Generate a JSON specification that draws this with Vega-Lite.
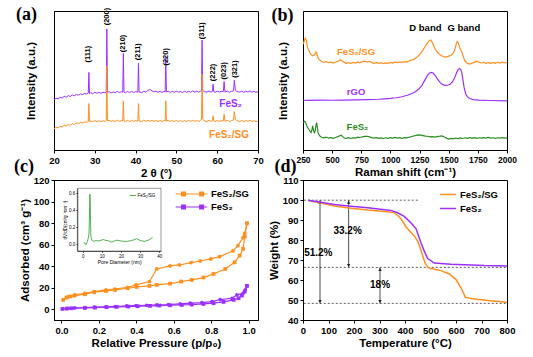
{
"$schema": "https://vega.github.io/schema/vega-lite/v6.json",
"background": "white",
"padding": {"left": 13, "top": 5, "right": 5, "bottom": 2},
"columns": 2,
"spacing": {"row": -10, "column": 3},
"resolve": {"scale": {"color": "independent", "shape": "independent"}, "legend": {"color": "independent", "shape": "independent"}},
"config": {
  "font": "Liberation Sans",
  "view": {"stroke": "black", "strokeWidth": 1},
  "axis": {"grid": false, "domainColor": "black", "tickColor": "black", "labelColor": "black", "titleColor": "black", "labelFont": "Liberation Sans", "titleFont": "Liberation Sans", "labelFontWeight": "bold", "titleFontWeight": "bold", "labelFontSize": 9.5, "titleFontSize": 11.5, "tickSize": 3, "labelPadding": 2, "titlePadding": 3, "labelFlush": false, "labelOverlap": false},
  "legend": {"labelFont": "Liberation Sans", "labelFontWeight": "bold", "labelFontSize": 9.5, "labelColor": "black"}
},
"datasets": {
  "xrd": [
    {"s":"FeS₂","x":20.0,"y":36.0},{"s":"FeS₂","x":20.5,"y":37.2},{"s":"FeS₂","x":21.0,"y":36.8},{"s":"FeS₂","x":21.5,"y":37.9},{"s":"FeS₂","x":22.0,"y":37.4},{"s":"FeS₂","x":22.5,"y":38.6},{"s":"FeS₂","x":23.0,"y":38.0},{"s":"FeS₂","x":23.5,"y":39.1},{"s":"FeS₂","x":24.0,"y":38.5},{"s":"FeS₂","x":24.5,"y":39.6},{"s":"FeS₂","x":25.0,"y":39.0},{"s":"FeS₂","x":25.5,"y":40.0},{"s":"FeS₂","x":26.0,"y":39.4},{"s":"FeS₂","x":26.5,"y":40.3},{"s":"FeS₂","x":27.0,"y":39.8},{"s":"FeS₂","x":27.5,"y":40.7},{"s":"FeS₂","x":28.0,"y":40.2},{"s":"FeS₂","x":28.4,"y":41.0},{"s":"FeS₂","x":28.55,"y":55.8},{"s":"FeS₂","x":28.7,"y":40.5},{"s":"FeS₂","x":29.0,"y":41.2},{"s":"FeS₂","x":29.5,"y":40.4},{"s":"FeS₂","x":30.0,"y":41.6},{"s":"FeS₂","x":30.5,"y":40.8},{"s":"FeS₂","x":31.0,"y":41.5},{"s":"FeS₂","x":31.5,"y":40.7},{"s":"FeS₂","x":32.0,"y":41.6},{"s":"FeS₂","x":32.5,"y":41.0},{"s":"FeS₂","x":32.8,"y":42.0},{"s":"FeS₂","x":32.95,"y":87.0},{"s":"FeS₂","x":33.1,"y":41.5},{"s":"FeS₂","x":33.5,"y":42.0},{"s":"FeS₂","x":34.0,"y":41.0},{"s":"FeS₂","x":34.5,"y":41.8},{"s":"FeS₂","x":35.0,"y":41.1},{"s":"FeS₂","x":35.5,"y":42.2},{"s":"FeS₂","x":36.0,"y":41.3},{"s":"FeS₂","x":36.5,"y":42.0},{"s":"FeS₂","x":36.85,"y":41.5},{"s":"FeS₂","x":37.0,"y":69.5},{"s":"FeS₂","x":37.15,"y":41.8},{"s":"FeS₂","x":37.5,"y":41.2},{"s":"FeS₂","x":38.0,"y":42.1},{"s":"FeS₂","x":38.5,"y":41.3},{"s":"FeS₂","x":39.0,"y":42.2},{"s":"FeS₂","x":39.5,"y":41.4},{"s":"FeS₂","x":40.0,"y":42.0},{"s":"FeS₂","x":40.55,"y":41.6},{"s":"FeS₂","x":40.7,"y":62.5},{"s":"FeS₂","x":40.85,"y":41.8},{"s":"FeS₂","x":41.5,"y":41.2},{"s":"FeS₂","x":42.0,"y":42.3},{"s":"FeS₂","x":42.5,"y":41.6},{"s":"FeS₂","x":43.0,"y":42.8},{"s":"FeS₂","x":43.5,"y":43.5},{"s":"FeS₂","x":44.0,"y":42.6},{"s":"FeS₂","x":44.5,"y":41.8},{"s":"FeS₂","x":45.0,"y":42.4},{"s":"FeS₂","x":45.5,"y":41.5},{"s":"FeS₂","x":46.0,"y":42.2},{"s":"FeS₂","x":46.5,"y":41.4},{"s":"FeS₂","x":47.0,"y":42.3},{"s":"FeS₂","x":47.25,"y":42.0},{"s":"FeS₂","x":47.4,"y":66.6},{"s":"FeS₂","x":47.55,"y":41.8},{"s":"FeS₂","x":48.0,"y":42.3},{"s":"FeS₂","x":48.5,"y":41.4},{"s":"FeS₂","x":49.0,"y":42.2},{"s":"FeS₂","x":49.5,"y":41.5},{"s":"FeS₂","x":50.0,"y":42.4},{"s":"FeS₂","x":50.5,"y":41.6},{"s":"FeS₂","x":51.0,"y":42.1},{"s":"FeS₂","x":51.5,"y":41.3},{"s":"FeS₂","x":52.0,"y":42.3},{"s":"FeS₂","x":52.5,"y":41.5},{"s":"FeS₂","x":53.0,"y":42.2},{"s":"FeS₂","x":53.5,"y":41.6},{"s":"FeS₂","x":54.0,"y":42.5},{"s":"FeS₂","x":54.5,"y":41.7},{"s":"FeS₂","x":55.0,"y":42.3},{"s":"FeS₂","x":55.5,"y":41.6},{"s":"FeS₂","x":56.0,"y":42.6},{"s":"FeS₂","x":56.15,"y":42.8},{"s":"FeS₂","x":56.3,"y":79.1},{"s":"FeS₂","x":56.45,"y":43.0},{"s":"FeS₂","x":56.8,"y":42.0},{"s":"FeS₂","x":57.5,"y":41.6},{"s":"FeS₂","x":58.0,"y":42.4},{"s":"FeS₂","x":58.5,"y":41.7},{"s":"FeS₂","x":58.85,"y":42.3},{"s":"FeS₂","x":59.0,"y":47.4},{"s":"FeS₂","x":59.15,"y":42.0},{"s":"FeS₂","x":59.5,"y":41.5},{"s":"FeS₂","x":60.0,"y":42.3},{"s":"FeS₂","x":60.5,"y":41.6},{"s":"FeS₂","x":61.0,"y":42.2},{"s":"FeS₂","x":61.5,"y":42.0},{"s":"FeS₂","x":61.7,"y":49.3},{"s":"FeS₂","x":61.9,"y":41.8},{"s":"FeS₂","x":62.5,"y":42.4},{"s":"FeS₂","x":63.0,"y":41.5},{"s":"FeS₂","x":63.5,"y":42.2},{"s":"FeS₂","x":64.0,"y":42.6},{"s":"FeS₂","x":64.2,"y":50.2},{"s":"FeS₂","x":64.45,"y":43.0},{"s":"FeS₂","x":64.8,"y":42.2},{"s":"FeS₂","x":65.5,"y":41.6},{"s":"FeS₂","x":66.0,"y":42.4},{"s":"FeS₂","x":66.5,"y":41.5},{"s":"FeS₂","x":67.0,"y":42.3},{"s":"FeS₂","x":67.5,"y":41.7},{"s":"FeS₂","x":68.0,"y":42.5},{"s":"FeS₂","x":68.5,"y":41.6},{"s":"FeS₂","x":69.0,"y":42.2},{"s":"FeS₂","x":69.5,"y":41.5},{"s":"FeS₂","x":70.0,"y":42.0},
    {"s":"FeS₂/SG","x":20.0,"y":15.2},{"s":"FeS₂/SG","x":20.5,"y":16.3},{"s":"FeS₂/SG","x":21.0,"y":15.9},{"s":"FeS₂/SG","x":21.5,"y":17.0},{"s":"FeS₂/SG","x":22.0,"y":16.6},{"s":"FeS₂/SG","x":22.5,"y":17.8},{"s":"FeS₂/SG","x":23.0,"y":17.2},{"s":"FeS₂/SG","x":23.5,"y":18.3},{"s":"FeS₂/SG","x":24.0,"y":17.8},{"s":"FeS₂/SG","x":24.5,"y":18.9},{"s":"FeS₂/SG","x":25.0,"y":18.4},{"s":"FeS₂/SG","x":25.5,"y":19.5},{"s":"FeS₂/SG","x":26.0,"y":19.0},{"s":"FeS₂/SG","x":26.5,"y":19.9},{"s":"FeS₂/SG","x":27.0,"y":19.4},{"s":"FeS₂/SG","x":27.5,"y":20.3},{"s":"FeS₂/SG","x":28.0,"y":19.8},{"s":"FeS₂/SG","x":28.4,"y":20.6},{"s":"FeS₂/SG","x":28.55,"y":33.4},{"s":"FeS₂/SG","x":28.7,"y":20.4},{"s":"FeS₂/SG","x":29.0,"y":20.9},{"s":"FeS₂/SG","x":29.5,"y":20.2},{"s":"FeS₂/SG","x":30.0,"y":21.2},{"s":"FeS₂/SG","x":30.5,"y":20.4},{"s":"FeS₂/SG","x":31.0,"y":21.0},{"s":"FeS₂/SG","x":31.5,"y":20.3},{"s":"FeS₂/SG","x":32.0,"y":21.1},{"s":"FeS₂/SG","x":32.5,"y":20.5},{"s":"FeS₂/SG","x":32.8,"y":21.4},{"s":"FeS₂/SG","x":32.95,"y":60.6},{"s":"FeS₂/SG","x":33.1,"y":21.0},{"s":"FeS₂/SG","x":33.5,"y":21.4},{"s":"FeS₂/SG","x":34.0,"y":20.5},{"s":"FeS₂/SG","x":34.5,"y":21.2},{"s":"FeS₂/SG","x":35.0,"y":20.4},{"s":"FeS₂/SG","x":35.5,"y":21.5},{"s":"FeS₂/SG","x":36.0,"y":20.6},{"s":"FeS₂/SG","x":36.5,"y":21.2},{"s":"FeS₂/SG","x":36.85,"y":20.8},{"s":"FeS₂/SG","x":37.0,"y":35.3},{"s":"FeS₂/SG","x":37.15,"y":21.0},{"s":"FeS₂/SG","x":37.5,"y":20.4},{"s":"FeS₂/SG","x":38.0,"y":21.3},{"s":"FeS₂/SG","x":38.5,"y":20.5},{"s":"FeS₂/SG","x":39.0,"y":21.4},{"s":"FeS₂/SG","x":39.5,"y":20.6},{"s":"FeS₂/SG","x":40.0,"y":21.2},{"s":"FeS₂/SG","x":40.55,"y":20.8},{"s":"FeS₂/SG","x":40.7,"y":33.4},{"s":"FeS₂/SG","x":40.85,"y":21.0},{"s":"FeS₂/SG","x":41.5,"y":20.4},{"s":"FeS₂/SG","x":42.0,"y":21.5},{"s":"FeS₂/SG","x":42.5,"y":20.7},{"s":"FeS₂/SG","x":43.0,"y":21.3},{"s":"FeS₂/SG","x":43.5,"y":20.6},{"s":"FeS₂/SG","x":44.0,"y":21.4},{"s":"FeS₂/SG","x":44.5,"y":20.5},{"s":"FeS₂/SG","x":45.0,"y":21.3},{"s":"FeS₂/SG","x":45.5,"y":20.4},{"s":"FeS₂/SG","x":46.0,"y":21.2},{"s":"FeS₂/SG","x":46.5,"y":20.5},{"s":"FeS₂/SG","x":47.0,"y":21.3},{"s":"FeS₂/SG","x":47.25,"y":21.0},{"s":"FeS₂/SG","x":47.4,"y":35.3},{"s":"FeS₂/SG","x":47.55,"y":20.8},{"s":"FeS₂/SG","x":48.0,"y":21.4},{"s":"FeS₂/SG","x":48.5,"y":20.5},{"s":"FeS₂/SG","x":49.0,"y":21.2},{"s":"FeS₂/SG","x":49.5,"y":20.4},{"s":"FeS₂/SG","x":50.0,"y":21.3},{"s":"FeS₂/SG","x":50.5,"y":20.5},{"s":"FeS₂/SG","x":51.0,"y":21.1},{"s":"FeS₂/SG","x":51.5,"y":20.3},{"s":"FeS₂/SG","x":52.0,"y":21.2},{"s":"FeS₂/SG","x":52.5,"y":20.5},{"s":"FeS₂/SG","x":53.0,"y":21.3},{"s":"FeS₂/SG","x":53.5,"y":20.6},{"s":"FeS₂/SG","x":54.0,"y":21.4},{"s":"FeS₂/SG","x":54.5,"y":20.6},{"s":"FeS₂/SG","x":55.0,"y":21.2},{"s":"FeS₂/SG","x":55.5,"y":20.5},{"s":"FeS₂/SG","x":56.0,"y":21.6},{"s":"FeS₂/SG","x":56.15,"y":22.0},{"s":"FeS₂/SG","x":56.3,"y":54.6},{"s":"FeS₂/SG","x":56.45,"y":22.2},{"s":"FeS₂/SG","x":56.8,"y":21.0},{"s":"FeS₂/SG","x":57.5,"y":20.5},{"s":"FeS₂/SG","x":58.0,"y":21.3},{"s":"FeS₂/SG","x":58.5,"y":20.6},{"s":"FeS₂/SG","x":58.85,"y":21.2},{"s":"FeS₂/SG","x":59.0,"y":24.5},{"s":"FeS₂/SG","x":59.15,"y":21.0},{"s":"FeS₂/SG","x":59.5,"y":20.4},{"s":"FeS₂/SG","x":60.0,"y":21.2},{"s":"FeS₂/SG","x":60.5,"y":20.5},{"s":"FeS₂/SG","x":61.0,"y":21.1},{"s":"FeS₂/SG","x":61.5,"y":21.0},{"s":"FeS₂/SG","x":61.7,"y":25.7},{"s":"FeS₂/SG","x":61.9,"y":20.8},{"s":"FeS₂/SG","x":62.5,"y":21.3},{"s":"FeS₂/SG","x":63.0,"y":20.4},{"s":"FeS₂/SG","x":63.5,"y":21.2},{"s":"FeS₂/SG","x":64.0,"y":21.6},{"s":"FeS₂/SG","x":64.2,"y":27.6},{"s":"FeS₂/SG","x":64.45,"y":22.0},{"s":"FeS₂/SG","x":64.8,"y":21.1},{"s":"FeS₂/SG","x":65.5,"y":20.5},{"s":"FeS₂/SG","x":66.0,"y":21.3},{"s":"FeS₂/SG","x":66.5,"y":20.4},{"s":"FeS₂/SG","x":67.0,"y":21.2},{"s":"FeS₂/SG","x":67.5,"y":20.6},{"s":"FeS₂/SG","x":68.0,"y":21.4},{"s":"FeS₂/SG","x":68.5,"y":20.5},{"s":"FeS₂/SG","x":69.0,"y":21.1},{"s":"FeS₂/SG","x":69.5,"y":20.4},{"s":"FeS₂/SG","x":70.0,"y":20.9}
  ],
  "xrdPeaks": [
    {"x":28.4,"y":69,"t":"(111)"},{"x":32.9,"y":96,"t":"(200)"},{"x":37.0,"y":76.7,"t":"(210)"},{"x":40.7,"y":70.7,"t":"(211)"},{"x":47.4,"y":67,"t":"(220)"},{"x":56.3,"y":85.8,"t":"(311)"},{"x":59.0,"y":55.8,"t":"(222)"},{"x":61.7,"y":57,"t":"(023)"},{"x":64.4,"y":58.2,"t":"(321)"}
  ],
  "xrdNames": [
    {"x":63.3,"y":33.4,"t":"FeS₂","s":"FeS₂"},{"x":62.9,"y":10.6,"t":"FeS₂/SG","s":"FeS₂/SG"}
  ],
  "lettersA": [{"x":13.26,"y":97.1,"t":"(a)"},{"x":12.65,"y":-12.1,"t":"(c)"}],
  "lettersB": [{"x":74,"y":96.4,"t":"(b)"},{"x":100,"y":-12.1,"t":"(d)"}],
  "raman": [
    {"s":"FeS₂/SG","x":253,"y":76.2},{"s":"FeS₂/SG","x":262,"y":79},{"s":"FeS₂/SG","x":270,"y":80.5},{"s":"FeS₂/SG","x":278,"y":79},{"s":"FeS₂/SG","x":288,"y":74},{"s":"FeS₂/SG","x":300,"y":71.5},{"s":"FeS₂/SG","x":315,"y":69},{"s":"FeS₂/SG","x":333,"y":67.8},{"s":"FeS₂/SG","x":350,"y":68.5},{"s":"FeS₂/SG","x":360,"y":70.5},{"s":"FeS₂/SG","x":368,"y":69.8},{"s":"FeS₂/SG","x":380,"y":66},{"s":"FeS₂/SG","x":395,"y":64.5},{"s":"FeS₂/SG","x":410,"y":63.8},{"s":"FeS₂/SG","x":430,"y":63},{"s":"FeS₂/SG","x":450,"y":63.6},{"s":"FeS₂/SG","x":470,"y":62.8},{"s":"FeS₂/SG","x":490,"y":63.4},{"s":"FeS₂/SG","x":510,"y":62.6},{"s":"FeS₂/SG","x":530,"y":63.3},{"s":"FeS₂/SG","x":550,"y":63.8},{"s":"FeS₂/SG","x":570,"y":64.8},{"s":"FeS₂/SG","x":585,"y":64.2},{"s":"FeS₂/SG","x":600,"y":63.2},{"s":"FeS₂/SG","x":620,"y":62.4},{"s":"FeS₂/SG","x":640,"y":62.9},{"s":"FeS₂/SG","x":660,"y":62.2},{"s":"FeS₂/SG","x":680,"y":63.0},{"s":"FeS₂/SG","x":700,"y":62.5},{"s":"FeS₂/SG","x":720,"y":63.3},{"s":"FeS₂/SG","x":740,"y":62.7},{"s":"FeS₂/SG","x":760,"y":63.6},{"s":"FeS₂/SG","x":780,"y":63.9},{"s":"FeS₂/SG","x":800,"y":63.2},{"s":"FeS₂/SG","x":820,"y":63.8},{"s":"FeS₂/SG","x":840,"y":62.9},{"s":"FeS₂/SG","x":860,"y":62.4},{"s":"FeS₂/SG","x":880,"y":63.0},{"s":"FeS₂/SG","x":900,"y":62.3},{"s":"FeS₂/SG","x":920,"y":62.8},{"s":"FeS₂/SG","x":940,"y":62.1},{"s":"FeS₂/SG","x":960,"y":62.7},{"s":"FeS₂/SG","x":980,"y":62.3},{"s":"FeS₂/SG","x":1000,"y":63.0},{"s":"FeS₂/SG","x":1020,"y":62.5},{"s":"FeS₂/SG","x":1040,"y":63.2},{"s":"FeS₂/SG","x":1060,"y":62.8},{"s":"FeS₂/SG","x":1080,"y":63.4},{"s":"FeS₂/SG","x":1100,"y":63.0},{"s":"FeS₂/SG","x":1120,"y":63.6},{"s":"FeS₂/SG","x":1140,"y":63.3},{"s":"FeS₂/SG","x":1160,"y":64.2},{"s":"FeS₂/SG","x":1180,"y":64.6},{"s":"FeS₂/SG","x":1200,"y":65.2},{"s":"FeS₂/SG","x":1220,"y":66.3},{"s":"FeS₂/SG","x":1240,"y":67.8},{"s":"FeS₂/SG","x":1260,"y":69.5},{"s":"FeS₂/SG","x":1280,"y":72.0},{"s":"FeS₂/SG","x":1300,"y":74.8},{"s":"FeS₂/SG","x":1320,"y":77.2},{"s":"FeS₂/SG","x":1335,"y":78.8},{"s":"FeS₂/SG","x":1345,"y":79.2},{"s":"FeS₂/SG","x":1355,"y":78.0},{"s":"FeS₂/SG","x":1370,"y":75.2},{"s":"FeS₂/SG","x":1385,"y":72.5},{"s":"FeS₂/SG","x":1400,"y":70.5},{"s":"FeS₂/SG","x":1420,"y":68.8},{"s":"FeS₂/SG","x":1440,"y":67.8},{"s":"FeS₂/SG","x":1460,"y":67.2},{"s":"FeS₂/SG","x":1480,"y":66.8},{"s":"FeS₂/SG","x":1500,"y":67.5},{"s":"FeS₂/SG","x":1520,"y":68.2},{"s":"FeS₂/SG","x":1535,"y":69.3},{"s":"FeS₂/SG","x":1550,"y":71.5},{"s":"FeS₂/SG","x":1562,"y":75.5},{"s":"FeS₂/SG","x":1572,"y":78.0},{"s":"FeS₂/SG","x":1582,"y":77.2},{"s":"FeS₂/SG","x":1592,"y":74.0},{"s":"FeS₂/SG","x":1600,"y":72.5},{"s":"FeS₂/SG","x":1610,"y":71.0},{"s":"FeS₂/SG","x":1625,"y":67.0},{"s":"FeS₂/SG","x":1640,"y":64.0},{"s":"FeS₂/SG","x":1660,"y":62.3},{"s":"FeS₂/SG","x":1680,"y":61.8},{"s":"FeS₂/SG","x":1700,"y":62.5},{"s":"FeS₂/SG","x":1720,"y":63.2},{"s":"FeS₂/SG","x":1740,"y":63.8},{"s":"FeS₂/SG","x":1760,"y":63.2},{"s":"FeS₂/SG","x":1780,"y":62.6},{"s":"FeS₂/SG","x":1800,"y":63.1},{"s":"FeS₂/SG","x":1820,"y":62.4},{"s":"FeS₂/SG","x":1840,"y":62.9},{"s":"FeS₂/SG","x":1860,"y":62.3},{"s":"FeS₂/SG","x":1880,"y":63.0},{"s":"FeS₂/SG","x":1900,"y":62.4},{"s":"FeS₂/SG","x":1920,"y":63.1},{"s":"FeS₂/SG","x":1940,"y":62.5},{"s":"FeS₂/SG","x":1960,"y":63.2},{"s":"FeS₂/SG","x":1980,"y":62.6},{"s":"FeS₂/SG","x":2000,"y":63.0},
    {"s":"rGO","x":253,"y":35.8},{"s":"rGO","x":300,"y":35.7},{"s":"rGO","x":400,"y":35.9},{"s":"rGO","x":500,"y":35.8},{"s":"rGO","x":600,"y":35.9},{"s":"rGO","x":700,"y":36.0},{"s":"rGO","x":800,"y":36.2},{"s":"rGO","x":900,"y":36.5},{"s":"rGO","x":950,"y":36.8},{"s":"rGO","x":1000,"y":37.1},{"s":"rGO","x":1050,"y":37.6},{"s":"rGO","x":1100,"y":38.3},{"s":"rGO","x":1150,"y":39.6},{"s":"rGO","x":1200,"y":41.2},{"s":"rGO","x":1240,"y":43.5},{"s":"rGO","x":1270,"y":46.5},{"s":"rGO","x":1300,"y":51.0},{"s":"rGO","x":1320,"y":54.0},{"s":"rGO","x":1340,"y":55.6},{"s":"rGO","x":1355,"y":55.8},{"s":"rGO","x":1370,"y":55.0},{"s":"rGO","x":1390,"y":52.8},{"s":"rGO","x":1410,"y":50.2},{"s":"rGO","x":1430,"y":48.3},{"s":"rGO","x":1450,"y":47.0},{"s":"rGO","x":1470,"y":46.5},{"s":"rGO","x":1490,"y":46.6},{"s":"rGO","x":1510,"y":47.3},{"s":"rGO","x":1530,"y":48.8},{"s":"rGO","x":1550,"y":51.8},{"s":"rGO","x":1565,"y":55.0},{"s":"rGO","x":1580,"y":57.8},{"s":"rGO","x":1592,"y":58.7},{"s":"rGO","x":1603,"y":58.0},{"s":"rGO","x":1612,"y":55.5},{"s":"rGO","x":1622,"y":50.5},{"s":"rGO","x":1632,"y":45.0},{"s":"rGO","x":1645,"y":40.5},{"s":"rGO","x":1660,"y":38.4},{"s":"rGO","x":1680,"y":37.0},{"s":"rGO","x":1710,"y":36.3},{"s":"rGO","x":1760,"y":35.9},{"s":"rGO","x":1850,"y":35.6},{"s":"rGO","x":2000,"y":35.3},
    {"s":"FeS₂","x":253,"y":19.7},{"s":"FeS₂","x":262,"y":20.6},{"s":"FeS₂","x":270,"y":20.2},{"s":"FeS₂","x":280,"y":18.0},{"s":"FeS₂","x":290,"y":16.2},{"s":"FeS₂","x":299,"y":14.9},{"s":"FeS₂","x":310,"y":13.5},{"s":"FeS₂","x":319,"y":12.5},{"s":"FeS₂","x":326,"y":14.0},{"s":"FeS₂","x":333,"y":17.3},{"s":"FeS₂","x":340,"y":14.5},{"s":"FeS₂","x":347,"y":12.5},{"s":"FeS₂","x":355,"y":13.8},{"s":"FeS₂","x":362,"y":18.5},{"s":"FeS₂","x":367,"y":19.7},{"s":"FeS₂","x":372,"y":17.0},{"s":"FeS₂","x":380,"y":12.0},{"s":"FeS₂","x":395,"y":10.0},{"s":"FeS₂","x":410,"y":9.2},{"s":"FeS₂","x":430,"y":8.8},{"s":"FeS₂","x":450,"y":9.3},{"s":"FeS₂","x":470,"y":8.5},{"s":"FeS₂","x":490,"y":8.9},{"s":"FeS₂","x":510,"y":8.4},{"s":"FeS₂","x":530,"y":9.0},{"s":"FeS₂","x":550,"y":9.6},{"s":"FeS₂","x":565,"y":10.2},{"s":"FeS₂","x":578,"y":10.6},{"s":"FeS₂","x":590,"y":9.6},{"s":"FeS₂","x":605,"y":8.6},{"s":"FeS₂","x":620,"y":8.4},{"s":"FeS₂","x":640,"y":8.9},{"s":"FeS₂","x":660,"y":8.3},{"s":"FeS₂","x":680,"y":8.9},{"s":"FeS₂","x":700,"y":8.6},{"s":"FeS₂","x":720,"y":9.2},{"s":"FeS₂","x":740,"y":9.0},{"s":"FeS₂","x":760,"y":9.5},{"s":"FeS₂","x":780,"y":9.8},{"s":"FeS₂","x":800,"y":9.9},{"s":"FeS₂","x":820,"y":9.4},{"s":"FeS₂","x":840,"y":8.9},{"s":"FeS₂","x":860,"y":8.5},{"s":"FeS₂","x":880,"y":8.9},{"s":"FeS₂","x":900,"y":8.4},{"s":"FeS₂","x":920,"y":8.7},{"s":"FeS₂","x":940,"y":8.3},{"s":"FeS₂","x":960,"y":8.8},{"s":"FeS₂","x":980,"y":8.4},{"s":"FeS₂","x":1000,"y":8.9},{"s":"FeS₂","x":1020,"y":8.5},{"s":"FeS₂","x":1040,"y":9.0},{"s":"FeS₂","x":1060,"y":8.6},{"s":"FeS₂","x":1080,"y":8.9},{"s":"FeS₂","x":1100,"y":8.4},{"s":"FeS₂","x":1120,"y":8.9},{"s":"FeS₂","x":1140,"y":8.7},{"s":"FeS₂","x":1160,"y":9.2},{"s":"FeS₂","x":1180,"y":9.6},{"s":"FeS₂","x":1200,"y":10.1},{"s":"FeS₂","x":1220,"y":10.5},{"s":"FeS₂","x":1240,"y":10.9},{"s":"FeS₂","x":1260,"y":10.7},{"s":"FeS₂","x":1280,"y":10.4},{"s":"FeS₂","x":1300,"y":10.0},{"s":"FeS₂","x":1320,"y":9.9},{"s":"FeS₂","x":1340,"y":9.5},{"s":"FeS₂","x":1360,"y":9.6},{"s":"FeS₂","x":1380,"y":9.3},{"s":"FeS₂","x":1400,"y":9.6},{"s":"FeS₂","x":1420,"y":9.9},{"s":"FeS₂","x":1440,"y":10.2},{"s":"FeS₂","x":1460,"y":9.5},{"s":"FeS₂","x":1480,"y":8.5},{"s":"FeS₂","x":1500,"y":7.9},{"s":"FeS₂","x":1520,"y":8.3},{"s":"FeS₂","x":1540,"y":8.0},{"s":"FeS₂","x":1560,"y":8.6},{"s":"FeS₂","x":1580,"y":8.2},{"s":"FeS₂","x":1600,"y":8.7},{"s":"FeS₂","x":1620,"y":8.3},{"s":"FeS₂","x":1640,"y":8.8},{"s":"FeS₂","x":1660,"y":8.4},{"s":"FeS₂","x":1680,"y":8.9},{"s":"FeS₂","x":1700,"y":8.5},{"s":"FeS₂","x":1720,"y":8.9},{"s":"FeS₂","x":1740,"y":8.4},{"s":"FeS₂","x":1760,"y":8.8},{"s":"FeS₂","x":1780,"y":8.5},{"s":"FeS₂","x":1800,"y":8.9},{"s":"FeS₂","x":1820,"y":8.6},{"s":"FeS₂","x":1840,"y":9.0},{"s":"FeS₂","x":1860,"y":8.5},{"s":"FeS₂","x":1880,"y":8.8},{"s":"FeS₂","x":1900,"y":8.4},{"s":"FeS₂","x":1920,"y":8.8},{"s":"FeS₂","x":1940,"y":8.5},{"s":"FeS₂","x":1960,"y":8.9},{"s":"FeS₂","x":1980,"y":8.5},{"s":"FeS₂","x":2000,"y":8.7}
  ],
  "ramanBands": [{"x":1300,"y":87.7,"t":"D band"},{"x":1630,"y":87.7,"t":"G band"}],
  "ramanNames": [{"x":705,"y":70.7,"t":"FeS₂/SG","s":"FeS₂/SG"},{"x":705,"y":41.8,"t":"rGO","s":"rGO"},{"x":717,"y":16.8,"t":"FeS₂","s":"FeS₂"}],
  "bet": [
    {"s":"FeS₂/SG","b":"ads","x":0.009,"y":8.7},{"s":"FeS₂/SG","b":"ads","x":0.027,"y":10.8},{"s":"FeS₂/SG","b":"ads","x":0.048,"y":11.8},{"s":"FeS₂/SG","b":"ads","x":0.071,"y":12.7},{"s":"FeS₂/SG","b":"ads","x":0.125,"y":13.9},{"s":"FeS₂/SG","b":"ads","x":0.175,"y":15.8},{"s":"FeS₂/SG","b":"ads","x":0.2375,"y":17},{"s":"FeS₂/SG","b":"ads","x":0.286,"y":17.9},{"s":"FeS₂/SG","b":"ads","x":0.354,"y":19.5},{"s":"FeS₂/SG","b":"ads","x":0.402,"y":20.7},{"s":"FeS₂/SG","b":"ads","x":0.47,"y":21.7},{"s":"FeS₂/SG","b":"ads","x":0.509,"y":22.6},{"s":"FeS₂/SG","b":"ads","x":0.58,"y":23.8},{"s":"FeS₂/SG","b":"ads","x":0.639,"y":25.7},{"s":"FeS₂/SG","b":"ads","x":0.696,"y":27.2},{"s":"FeS₂/SG","b":"ads","x":0.759,"y":29.4},{"s":"FeS₂/SG","b":"ads","x":0.8125,"y":32.8},{"s":"FeS₂/SG","b":"ads","x":0.875,"y":37.4},{"s":"FeS₂/SG","b":"ads","x":0.925,"y":43.6},{"s":"FeS₂/SG","b":"ads","x":0.952,"y":49.8},{"s":"FeS₂/SG","b":"ads","x":0.97,"y":56},{"s":"FeS₂/SG","b":"ads","x":0.979,"y":67.4},{"s":"FeS₂/SG","b":"ads","x":0.991,"y":79.8},
    {"s":"FeS₂/SG","b":"des","x":0.991,"y":79.8},{"s":"FeS₂/SG","b":"des","x":0.979,"y":70.5},{"s":"FeS₂/SG","b":"des","x":0.97,"y":66.5},{"s":"FeS₂/SG","b":"des","x":0.943,"y":59},{"s":"FeS₂/SG","b":"des","x":0.916,"y":54.1},{"s":"FeS₂/SG","b":"des","x":0.845,"y":48.9},{"s":"FeS₂/SG","b":"des","x":0.798,"y":46.7},{"s":"FeS₂/SG","b":"des","x":0.741,"y":44.8},{"s":"FeS₂/SG","b":"des","x":0.693,"y":43.3},{"s":"FeS₂/SG","b":"des","x":0.63,"y":41.1},{"s":"FeS₂/SG","b":"des","x":0.58,"y":40.2},{"s":"FeS₂/SG","b":"des","x":0.509,"y":37.4},{"s":"FeS₂/SG","b":"des","x":0.47,"y":25.7},{"s":"FeS₂/SG","b":"des","x":0.398,"y":22.6},{"s":"FeS₂/SG","b":"des","x":0.354,"y":20.4},{"s":"FeS₂/SG","b":"des","x":0.286,"y":18.6},{"s":"FeS₂/SG","b":"des","x":0.2375,"y":17.9},{"s":"FeS₂/SG","b":"des","x":0.175,"y":16.4},{"s":"FeS₂/SG","b":"des","x":0.125,"y":14.8},{"s":"FeS₂/SG","b":"des","x":0.071,"y":13.3},{"s":"FeS₂/SG","b":"des","x":0.036,"y":11.8},
    {"s":"FeS₂","b":"ads","x":0.005,"y":0.3},{"s":"FeS₂","b":"ads","x":0.027,"y":0.6},{"s":"FeS₂","b":"ads","x":0.054,"y":0.9},{"s":"FeS₂","b":"ads","x":0.125,"y":1.2},{"s":"FeS₂","b":"ads","x":0.179,"y":1.5},{"s":"FeS₂","b":"ads","x":0.241,"y":1.9},{"s":"FeS₂","b":"ads","x":0.295,"y":2.2},{"s":"FeS₂","b":"ads","x":0.357,"y":2.5},{"s":"FeS₂","b":"ads","x":0.407,"y":2.8},{"s":"FeS₂","b":"ads","x":0.473,"y":3.1},{"s":"FeS₂","b":"ads","x":0.523,"y":3.4},{"s":"FeS₂","b":"ads","x":0.58,"y":3.7},{"s":"FeS₂","b":"ads","x":0.643,"y":4},{"s":"FeS₂","b":"ads","x":0.696,"y":4.3},{"s":"FeS₂","b":"ads","x":0.759,"y":4.9},{"s":"FeS₂","b":"ads","x":0.8125,"y":5.6},{"s":"FeS₂","b":"ads","x":0.866,"y":6.8},{"s":"FeS₂","b":"ads","x":0.92,"y":8.7},{"s":"FeS₂","b":"ads","x":0.946,"y":10.2},{"s":"FeS₂","b":"ads","x":0.964,"y":12.7},{"s":"FeS₂","b":"ads","x":0.979,"y":16.4},{"s":"FeS₂","b":"ads","x":0.991,"y":21.7},
    {"s":"FeS₂","b":"des","x":0.991,"y":21.7},{"s":"FeS₂","b":"des","x":0.982,"y":17.9},{"s":"FeS₂","b":"des","x":0.97,"y":14.8},{"s":"FeS₂","b":"des","x":0.9375,"y":13.3},{"s":"FeS₂","b":"des","x":0.911,"y":10.2},{"s":"FeS₂","b":"des","x":0.848,"y":9},{"s":"FeS₂","b":"des","x":0.804,"y":7.1},{"s":"FeS₂","b":"des","x":0.75,"y":6.2},{"s":"FeS₂","b":"des","x":0.6875,"y":5.6},{"s":"FeS₂","b":"des","x":0.634,"y":4.9},{"s":"FeS₂","b":"des","x":0.571,"y":4.3},{"s":"FeS₂","b":"des","x":0.509,"y":4},{"s":"FeS₂","b":"des","x":0.455,"y":3.7},{"s":"FeS₂","b":"des","x":0.398,"y":3.4},{"s":"FeS₂","b":"des","x":0.348,"y":3.1},{"s":"FeS₂","b":"des","x":0.286,"y":2.5},{"s":"FeS₂","b":"des","x":0.2375,"y":2.2},{"s":"FeS₂","b":"des","x":0.175,"y":1.9},{"s":"FeS₂","b":"des","x":0.125,"y":1.5},{"s":"FeS₂","b":"des","x":0.071,"y":1.2},{"s":"FeS₂","b":"des","x":0.036,"y":0.9}
  ],
  "pore": [
    {"x":0.5,"y":0.02},{"x":1.2,"y":0.015},{"x":1.7,"y":-0.005},{"x":2.4,"y":0.03},{"x":2.9,"y":0.07},{"x":3.3,"y":0.12},{"x":3.8,"y":0.59},{"x":4.3,"y":0.09},{"x":4.8,"y":0.045},{"x":5.5,"y":0.035},{"x":7,"y":0.042},{"x":8.5,"y":0.038},{"x":10,"y":0.05},{"x":10.8,"y":0.055},{"x":12,"y":0.045},{"x":13.5,"y":0.04},{"x":15.1,"y":0.024},{"x":16.5,"y":0.038},{"x":17.8,"y":0.047},{"x":19.5,"y":0.04},{"x":21.2,"y":0.035},{"x":23,"y":0.033},{"x":24.8,"y":0.04},{"x":26.5,"y":0.05},{"x":28.2,"y":0.066},{"x":29.5,"y":0.05},{"x":30.8,"y":0.039},{"x":32.5,"y":0.034},{"x":34.5,"y":0.05},{"x":36.5,"y":0.08}
  ],
  "tga": [
    {"s":"FeS₂/SG","x":20,"y":99.7},{"s":"FeS₂/SG","x":70,"y":98.5},{"s":"FeS₂/SG","x":123,"y":97.0},{"s":"FeS₂/SG","x":188,"y":95.9},{"s":"FeS₂/SG","x":254,"y":95.0},{"s":"FeS₂/SG","x":319,"y":94.3},{"s":"FeS₂/SG","x":358,"y":93.7},{"s":"FeS₂/SG","x":378,"y":91.5},{"s":"FeS₂/SG","x":390,"y":89.5},{"s":"FeS₂/SG","x":404,"y":86.5},{"s":"FeS₂/SG","x":420,"y":84.3},{"s":"FeS₂/SG","x":435,"y":82.3},{"s":"FeS₂/SG","x":450,"y":79.3},{"s":"FeS₂/SG","x":460,"y":76.0},{"s":"FeS₂/SG","x":470,"y":71.8},{"s":"FeS₂/SG","x":480,"y":68.2},{"s":"FeS₂/SG","x":490,"y":66.3},{"s":"FeS₂/SG","x":502,"y":65.7},{"s":"FeS₂/SG","x":541,"y":64.7},{"s":"FeS₂/SG","x":574,"y":63.0},{"s":"FeS₂/SG","x":600,"y":60.2},{"s":"FeS₂/SG","x":620,"y":56.0},{"s":"FeS₂/SG","x":637,"y":51.3},{"s":"FeS₂/SG","x":659,"y":50.7},{"s":"FeS₂/SG","x":724,"y":49.7},{"s":"FeS₂/SG","x":800,"y":48.9},
    {"s":"FeS₂","x":20,"y":99.9},{"s":"FeS₂","x":70,"y":98.9},{"s":"FeS₂","x":123,"y":97.8},{"s":"FeS₂","x":188,"y":96.9},{"s":"FeS₂","x":254,"y":96.1},{"s":"FeS₂","x":345,"y":94.8},{"s":"FeS₂","x":371,"y":93.6},{"s":"FeS₂","x":397,"y":91.8},{"s":"FeS₂","x":424,"y":88.5},{"s":"FeS₂","x":443,"y":85.7},{"s":"FeS₂","x":463,"y":78.5},{"s":"FeS₂","x":476,"y":74.3},{"s":"FeS₂","x":489,"y":70.7},{"s":"FeS₂","x":515,"y":68.5},{"s":"FeS₂","x":580,"y":67.9},{"s":"FeS₂","x":711,"y":67.2},{"s":"FeS₂","x":800,"y":67.0}
  ],
  "tgaDash": [{"x":3,"x2":456,"y":99.9},{"x":3,"x2":800,"y":66.3},{"x":3,"x2":800,"y":48.3}],
  "tgaArrow": [{"x":66.7,"y":99.9,"y2":48.3},{"x":179,"y":99.9,"y2":66.3},{"x":302,"y":66.3,"y2":48.3}],
  "tgaHead": [{"x":66.7,"y":98.9,"d":"up"},{"x":66.7,"y":49.3,"d":"down"},{"x":179,"y":98.9,"d":"up"},{"x":179,"y":67.3,"d":"down"},{"x":302,"y":65.3,"d":"up"},{"x":302,"y":49.3,"d":"down"}],
  "tgaText": [{"x":175,"y":84.7,"t":"33.2%"},{"x":60,"y":73.5,"t":"51.2%"},{"x":302,"y":57.3,"t":"18%"}]
},
"concat": [
  {
    "width": 204, "height": 139,
    "encoding": {
      "x": {"field": "x", "type": "quantitative", "scale": {"domain": [20, 70], "nice": false, "zero": false}, "axis": {"values": [20,30,40,50,60,70], "title": "2 θ (°)", "labelOverlap": false}},
      "y": {"field": "y", "type": "quantitative", "scale": {"domain": [0, 100], "nice": false}, "axis": {"labels": false, "ticks": false, "title": "Intensity (a.u.)", "titlePadding": 18}}
    },
    "layer": [
      {"data": {"name": "xrd"}, "mark": {"type": "line", "strokeWidth": 1},
       "encoding": {"color": {"field": "s", "type": "nominal", "scale": {"domain": ["FeS₂", "FeS₂/SG"], "range": ["#9B30FF", "#FF8F1F"]}, "legend": null}}},
      {"data": {"name": "xrdPeaks"}, "mark": {"type": "text", "angle": 270, "fontSize": 7.5, "fontWeight": "bold", "color": "black", "align": "center", "baseline": "middle"},
       "encoding": {"text": {"field": "t"}}},
      {"data": {"name": "xrdNames"}, "mark": {"type": "text", "fontSize": 10, "fontWeight": "bold", "align": "center", "baseline": "middle"},
       "encoding": {"text": {"field": "t"}, "color": {"field": "s", "type": "nominal", "legend": null}}},
      {"data": {"name": "lettersA"}, "mark": {"type": "text", "font": "Liberation Serif", "fontSize": 18, "fontWeight": "bold", "color": "black", "align": "center", "baseline": "middle"},
       "encoding": {"text": {"field": "t"}}}
    ]
  },
  {
    "width": 204, "height": 139,
    "encoding": {
      "x": {"field": "x", "type": "quantitative", "scale": {"domain": [250, 2000], "nice": false, "zero": false}, "axis": {"values": [250,500,750,1000,1250,1500,1750,2000], "format": "d", "labelFontSize": 8.5, "labelOverlap": false, "title": "Raman shift (cm⁻¹)"}},
      "y": {"field": "y", "type": "quantitative", "scale": {"domain": [0, 100], "nice": false}, "axis": {"labels": false, "ticks": false, "title": "Intensity (a.u.)", "titlePadding": 15}}
    },
    "layer": [
      {"data": {"name": "raman"}, "mark": {"type": "line", "strokeWidth": 1.2},
       "encoding": {"color": {"field": "s", "type": "nominal", "scale": {"domain": ["FeS₂/SG", "rGO", "FeS₂"], "range": ["#FF8F1F", "#9B30FF", "#2A8C22"]}, "legend": null}}},
      {"data": {"name": "ramanNames"}, "mark": {"type": "text", "fontSize": 9.5, "fontWeight": "bold", "align": "center", "baseline": "middle"},
       "encoding": {"text": {"field": "t"}, "color": {"field": "s", "type": "nominal", "legend": null}}},
      {"data": {"name": "ramanBands"}, "mark": {"type": "text", "fontSize": 9.5, "fontWeight": "bold", "color": "black", "align": "center", "baseline": "middle"},
       "encoding": {"text": {"field": "t"}}},
      {"data": {"name": "lettersB"}, "mark": {"type": "text", "font": "Liberation Serif", "fontSize": 18, "fontWeight": "bold", "color": "black", "align": "center", "baseline": "middle"},
       "encoding": {"text": {"field": "t"}}}
    ]
  },
  {
    "width": 204, "height": 140,
    "resolve": {"scale": {"x": "independent", "y": "independent"}, "axis": {"x": "independent", "y": "independent"}},
    "layer": [
      {
        "data": {"name": "bet"},
        "encoding": {
          "x": {"field": "x", "type": "quantitative", "scale": {"domain": [-0.04, 1.05], "nice": false, "zero": false}, "axis": {"orient": "bottom", "values": [0,0.2,0.4,0.6,0.8,1.0], "format": ".1f", "labelOverlap": false, "title": "Relative Pressure (p/p₀)"}},
          "y": {"field": "y", "type": "quantitative", "scale": {"domain": [-10, 120], "nice": false, "zero": false}, "axis": {"orient": "left", "values": [0,20,40,60,80,100,120], "labelOverlap": false, "title": "Adsorbed (cm³ g⁻¹)"}},
          "color": {"field": "s", "type": "nominal", "scale": {"domain": ["FeS₂/SG", "FeS₂"], "range": ["#FF8F1F", "#9B30FF"]},
            "legend": {"title": null, "orient": "top-right", "offset": 8, "symbolType": "M-1,0H1M-0.63,-0.12h0.24v0.24h-0.24zM0.52,-0.12h0.24v0.24h-0.24z", "symbolSize": 1000, "symbolStrokeWidth": 1.2, "clipHeight": 12, "labelOffset": 3, "rowPadding": 1}}
        },
        "layer": [
          {"mark": {"type": "line", "strokeWidth": 1.2}, "encoding": {"detail": {"field": "b"}}},
          {"mark": {"type": "point", "filled": true, "size": 14, "opacity": 1}, "encoding": {"shape": {"field": "b", "type": "nominal", "scale": {"domain": ["ads", "des"], "range": ["square", "circle"]}, "legend": null}}}
        ]
      },
      {
        "layer": [
          {"data": {"values": [{"x0": -2.8, "x1": 40.9, "y0": -0.08, "y1": 0.66}]},
           "mark": {"type": "rect", "fill": "white", "stroke": "#555555", "strokeWidth": 0.6},
           "encoding": {
             "x": {"field": "x0", "type": "quantitative", "scale": {"domain": [-2.8, 40.9], "range": [23.3, 107], "nice": false, "zero": false},
               "axis": {"orient": "bottom", "offset": -69, "zindex": 2, "values": [0,5,10,15,20,25,30,35,40], "labelOverlap": false, "title": "Pore Diameter (nm)", "labelFontSize": 4.5, "titleFontSize": 5, "tickSize": 1.5, "labelPadding": 1, "titlePadding": 1, "domainWidth": 0.6, "tickWidth": 0.6, "labelFontWeight": "normal", "titleFontWeight": "normal"}},
             "x2": {"field": "x1"},
             "y": {"field": "y0", "type": "quantitative", "scale": {"domain": [-0.08, 0.66], "range": [71, 8.3], "nice": false, "zero": false},
               "axis": {"orient": "left", "offset": -23.3, "zindex": 2, "values": [0,0.1,0.2,0.3,0.4,0.5,0.6], "labelOverlap": false, "format": ".1f", "title": "dV/dD(cm³g⁻¹nm⁻¹)", "labelFontSize": 4.5, "titleFontSize": 4.5, "tickSize": 1.5, "labelPadding": 1, "titlePadding": 1, "domainWidth": 0.6, "tickWidth": 0.6, "labelFontWeight": "normal", "titleFontWeight": "normal"}},
             "y2": {"field": "y1"}
           }},
          {"data": {"name": "pore"}, "mark": {"type": "line", "color": "#2A9B2A", "strokeWidth": 0.8},
           "encoding": {"x": {"field": "x", "type": "quantitative"}, "y": {"field": "y", "type": "quantitative"}}},
          {"data": {"values": [{"x": 24.5, "x2": 28, "y": 0.575}]}, "mark": {"type": "rule", "color": "#2A9B2A", "strokeWidth": 0.8},
           "encoding": {"x": {"field": "x", "type": "quantitative"}, "x2": {"field": "x2"}, "y": {"field": "y", "type": "quantitative"}}},
          {"data": {"values": [{"x": 28.6, "y": 0.575, "t": "FeS₂/SG"}]}, "mark": {"type": "text", "fontSize": 4.5, "align": "left", "baseline": "middle", "color": "black"},
           "encoding": {"x": {"field": "x", "type": "quantitative"}, "y": {"field": "y", "type": "quantitative"}, "text": {"field": "t"}}}
        ]
      }
    ]
  },
  {
    "width": 204, "height": 140,
    "encoding": {
      "x": {"field": "x", "type": "quantitative", "scale": {"domain": [0, 800], "nice": false, "zero": false}, "axis": {"values": [0,100,200,300,400,500,600,700,800], "labelOverlap": false, "title": "Temperature (°C)"}},
      "y": {"field": "y", "type": "quantitative", "scale": {"domain": [40, 110], "nice": false, "zero": false}, "axis": {"values": [40,50,60,70,80,90,100,110], "labelOverlap": false, "title": "Weight (%)"}}
    },
    "layer": [
      {"data": {"name": "tgaDash"}, "mark": {"type": "rule", "strokeDash": [2, 2], "color": "#333333", "strokeWidth": 0.8},
       "encoding": {"x2": {"field": "x2"}}},
      {"data": {"name": "tgaArrow"}, "mark": {"type": "rule", "color": "#222222", "strokeWidth": 0.8},
       "encoding": {"y2": {"field": "y2"}}},
      {"data": {"name": "tgaHead"}, "mark": {"type": "point", "filled": true, "color": "#222222", "size": 12, "opacity": 1},
       "encoding": {"shape": {"field": "d", "type": "nominal", "scale": {"domain": ["up", "down"], "range": ["triangle-up", "triangle-down"]}, "legend": null}}},
      {"data": {"name": "tga"}, "mark": {"type": "line", "strokeWidth": 1.5},
       "encoding": {"color": {"field": "s", "type": "nominal", "scale": {"domain": ["FeS₂/SG", "FeS₂"], "range": ["#FF8F1F", "#9B30FF"]},
           "legend": {"title": null, "orient": "top-right", "offset": 8, "symbolType": "stroke", "symbolSize": 256, "symbolStrokeWidth": 1.5, "clipHeight": 13, "labelOffset": 3, "rowPadding": 1}}}},
      {"data": {"name": "tgaText"}, "mark": {"type": "text", "fontSize": 10, "fontWeight": "bold", "color": "black", "align": "center", "baseline": "middle"},
       "encoding": {"text": {"field": "t"}}}
    ]
  }
]
}
